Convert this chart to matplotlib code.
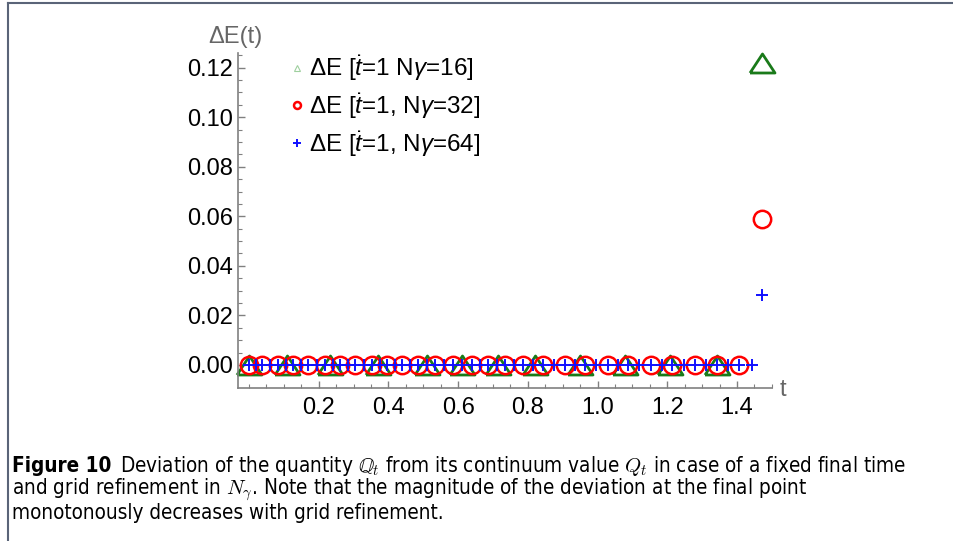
import matplotlib
matplotlib.use("Agg")
import matplotlib.pyplot as plt
from matplotlib.lines import Line2D
from matplotlib.ticker import FixedLocator, FormatStrFormatter

plt.rcParams["font.family"] = ["Liberation Sans", "DejaVu Sans"]
plt.rcParams["mathtext.fontset"] = "custom"
plt.rcParams["mathtext.rm"] = "Liberation Sans"
plt.rcParams["mathtext.it"] = "Liberation Sans:italic"

# grid times for the three resolutions (final point listed separately)
t_16 = [0.0, 0.11, 0.232, 0.37, 0.511, 0.611, 0.714, 0.821, 0.950, 1.079,
        1.208, 1.343]
t_32 = [0.0, 0.037, 0.083, 0.126, 0.169, 0.218, 0.261, 0.304, 0.353, 0.396,
        0.439, 0.485, 0.534, 0.585, 0.640, 0.686, 0.735, 0.786, 0.844, 0.907,
        0.964, 1.030, 1.087, 1.153, 1.214, 1.280, 1.343, 1.406]
t_64 = [0.0, 0.019, 0.037, 0.060, 0.083, 0.105, 0.126, 0.148, 0.169, 0.194,
        0.218, 0.240, 0.261, 0.283, 0.304, 0.329, 0.353, 0.375, 0.396, 0.418,
        0.439, 0.462, 0.485, 0.510, 0.534, 0.560, 0.585, 0.612, 0.640, 0.663,
        0.686, 0.711, 0.735, 0.761, 0.786, 0.815, 0.844, 0.876, 0.907, 0.936,
        0.964, 0.997, 1.030, 1.059, 1.087, 1.120, 1.153, 1.184, 1.214, 1.247,
        1.280, 1.312, 1.343, 1.375, 1.406, 1.442]
t_final = 1.471
dE_final_16 = 0.122
dE_final_32 = 0.0589
dE_final_64 = 0.0284

labels = [r"ΔE [$\dot{t}$=1 N$\gamma$=16]",
          r"ΔE [$\dot{t}$=1, N$\gamma$=32]",
          r"ΔE [$\dot{t}$=1, N$\gamma$=64]"]

green = "#1a7a1a"
red = "#ff0000"
blue = "#1010ff"

fig = plt.figure(figsize=(9.54, 5.41), dpi=100)
ax = fig.add_axes([0.249, 0.2834, 0.56, 0.619])

# interior points sit on zero, the final point carries the deviation
x16 = t_16 + [t_final]
y16 = [0.0] * len(t_16) + [dE_final_16]
x32 = t_32 + [t_final]
y32 = [0.0] * len(t_32) + [dE_final_32]
x64 = t_64 + [t_final]
y64 = [0.0] * len(t_64) + [dE_final_64]

tri = [(-1, -0.76), (1, -0.76), (0, 0.76), (-1, -0.76)]
ax.plot(x16, y16, ls="none", marker=tri, ms=18, mfc="none", mec=green, mew=2.0,
        clip_on=False)
ax.plot(x32, y32, ls="none", marker="o", ms=12.5, mfc="none", mec=red, mew=1.8,
        clip_on=False)
ax.plot(x64, y64, ls="none", marker="+", ms=9, mec=blue, mew=1.4,
        clip_on=False)

ax.set_xlim(-0.033, 1.5)
ax.set_ylim(-0.0092, 0.126)

for side in ["top", "right"]:
    ax.spines[side].set_visible(False)
for side in ["left", "bottom"]:
    ax.spines[side].set_color("#808080")
    ax.spines[side].set_linewidth(1.2)

ax.xaxis.set_major_locator(FixedLocator([0.2, 0.4, 0.6, 0.8, 1.0, 1.2, 1.4]))
ax.xaxis.set_minor_locator(FixedLocator([i * 0.05 for i in range(31)]))
ax.yaxis.set_major_locator(FixedLocator([0.0, 0.02, 0.04, 0.06, 0.08, 0.10, 0.12]))
ax.yaxis.set_minor_locator(FixedLocator([i * 0.005 for i in range(26)]))
ax.xaxis.set_major_formatter(FormatStrFormatter("%.1f"))
ax.yaxis.set_major_formatter(FormatStrFormatter("%.2f"))
ax.tick_params(which="both", direction="in", color="#808080", labelsize=17,
               labelcolor="black")
ax.tick_params(which="major", length=5, width=1.0)
ax.tick_params(which="minor", length=3, width=0.8)
ax.tick_params(axis="x", which="major", pad=7)
ax.tick_params(axis="y", which="major", pad=3)

ax.text(-0.039, 0.1325, "ΔE(t)", fontsize=17, color="#666666", ha="center",
        va="center")
ax.text(1.532, -0.0102, "t", fontsize=17, color="#666666", ha="center",
        va="center")

handles = [
    Line2D([], [], ls="none", marker="^", ms=5, mfc="none", mec="#9fd09f", mew=0.8),
    Line2D([], [], ls="none", marker="o", ms=5, mfc="none", mec=red, mew=1.8),
    Line2D([], [], ls="none", marker="+", ms=6, mec=blue, mew=1.4),
]
ax.legend(handles, labels, loc="upper left", bbox_to_anchor=(0.081, 1.027),
          frameon=False, fontsize=17.5, handlelength=0.5, handletextpad=0.25,
          labelspacing=0.34, borderaxespad=0.0)

# caption below the plot
cap_kw = dict(fontsize=14.9, family=["DejaVu Sans"], stretch="condensed",
              math_fontfamily="cm", va="center", ha="left")
head = fig.text(12 / 954, 1 - 466 / 541, "Figure 10", weight="bold", **cap_kw)
ax.annotate(r"Deviation of the quantity $\mathbb{Q}_t$ from its "
            r"continuum value $Q_t$ in case of a fixed final time",
            xy=(1, 0.5), xycoords=head, xytext=(6, 0),
            textcoords="offset points", annotation_clip=False, **cap_kw)
fig.text(12 / 954, 1 - 490 / 541,
         r"and grid refinement in $N_\gamma$. Note that the magnitude of the "
         r"deviation at the final point", **cap_kw)
fig.text(12 / 954, 1 - 513 / 541,
         "monotonously decreases with grid refinement.", **cap_kw)

# page frame
frame_kw = dict(color="#5a6478", lw=1.5, transform=fig.transFigure)
fig.add_artist(Line2D([8 / 954, 1.0], [1 - 3 / 541, 1 - 3 / 541], **frame_kw))
fig.add_artist(Line2D([8 / 954, 8 / 954], [0.0, 1 - 3 / 541], **frame_kw))

fig.savefig("out.png", dpi=100)
